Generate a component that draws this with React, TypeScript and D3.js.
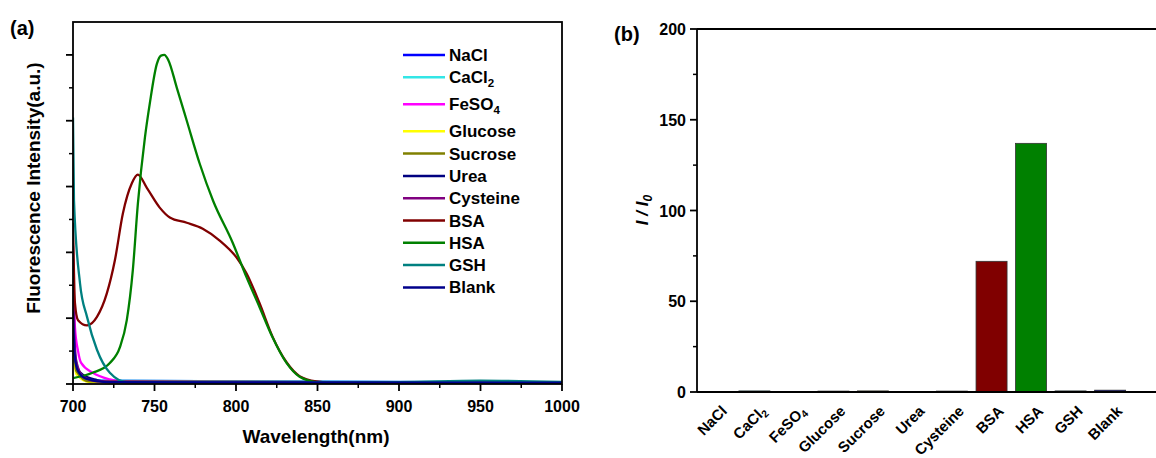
import React from 'react';
import * as d3 from 'd3';

// ---- panel (a) spectra: [wavelength nm, intensity a.u.]
const naclPts: [number, number][] = [[700, 700], [702, 200], [708, 50], [1000, 20]];
const cacl2Pts: [number, number][] = [[700, 1200], [701.5, 400], [705, 150], [715, 50], [1000, 20]];
const feso4Pts: [number, number][] = [[700, 1900], [701.2, 860], [703.1, 500], [705, 320], [712.2, 170], [722.6, 70], [733, 30], [1000, 20]];
const glucosePts: [number, number][] = [[700, 600], [702, 150], [710, 30], [1000, 20]];
const sucrosePts: [number, number][] = [[700, 800], [702, 200], [710, 40], [1000, 20]];
const ureaPts: [number, number][] = [[700, 900], [701, 500], [702.4, 260], [706, 140], [714.7, 60], [722.6, 30], [1000, 20]];
const cysteinePts: [number, number][] = [[700, 2100], [700.8, 800], [702, 350], [706, 120], [715, 40], [1000, 20]];
const bsaPts: [number, number][] = [
  [700, 2450], [701.2, 1230], [703.1, 970], [708.6, 890], [714.7, 1020], [720.8, 1380], [725.7, 1880],
  [730.6, 2590], [736.1, 3050], [739.8, 3180], [745.3, 2980], [753.2, 2680], [759.4, 2530], [769.8, 2450],
  [779.6, 2360], [790, 2180], [800.4, 1920], [806.5, 1680], [814.4, 1230], [822.4, 720], [831, 330],
  [839, 120], [849.3, 40], [865, 10], [1000, 10],
];
const hsaPts: [number, number][] = [
  [700, 90], [712, 170], [722.6, 320], [728.8, 560], [733, 970], [736.7, 1730], [739.8, 2740], [744.1, 3740],
  [747.1, 4260], [751.4, 4860], [754, 4990], [756, 5000], [758.5, 4920], [763.7, 4500], [769.8, 4000], [777.7, 3350],
  [786, 2780], [797.9, 2150], [806.5, 1620], [814.4, 1170], [822.4, 710], [831, 320], [839, 110],
  [849.3, 30], [865, 10], [1000, 10],
];
const gshPts: [number, number][] = [[700, 4050], [700.6, 2790], [704.3, 1530], [708.6, 1020], [714.7, 520], [722.6, 170], [733, 30], [800, 20], [900, 30], [950, 50], [1000, 30]];
const blankPts: [number, number][] = [[700, 1100], [701, 450], [703, 200], [708, 80], [720, 30], [1000, 20]];

const seriesNames = ['NaCl', 'CaCl2', 'FeSO4', 'Glucose', 'Sucrose', 'Urea', 'Cysteine', 'BSA', 'HSA', 'GSH', 'Blank'];
const seriesColors = ['#0000ff', '#33e6e6', '#ff00ff', '#ffff00', '#808000', '#000080', '#800080', '#800000', '#008000', '#008080', '#00008b'];
const seriesPts = [naclPts, cacl2Pts, feso4Pts, glucosePts, sucrosePts, ureaPts, cysteinePts, bsaPts, hsaPts, gshPts, blankPts];

// ---- panel (b) I/I0 ratio
const barValues = [0.3, 0.6, 0.3, 0.5, 0.6, 0.3, 0.5, 72, 137, 0.6, 1.0];
const barColors = ['#0000ff', '#33e6e6', '#ff00ff', '#ffff00', '#808000', '#000080', '#800080', '#800000', '#008000', '#008080', '#00008b'];

const xTicksA = [700, 750, 800, 850, 900, 950, 1000];
const yTicksB = [0, 50, 100, 150, 200];

const FONT = 'Liberation Sans, Arial, sans-serif';

// label with optional subscript digits (CaCl2, FeSO4)
const Label: React.FC<{ name: string; sub?: number }> = ({ name, sub = 4 }) => {
  const m = name.match(/^(.*?)(\d)$/);
  if (!m) return <>{name}</>;
  return (
    <>
      {m[1]}
      <tspan dy={sub} fontSize="0.68em">{m[2]}</tspan>
    </>
  );
};

export default function App() {
  const W = 1156, H = 458;

  // panel a
  const a = { left: 73, right: 562, top: 22, bottom: 384 };
  const xA = d3.scaleLinear().domain([700, 1000]).range([a.left, a.right]);
  const yA = d3.scaleLinear().domain([0, 5500]).range([a.bottom, a.top]);
  const line = d3.line<[number, number]>()
    .x(d => xA(d[0]))
    .y(d => yA(d[1]))
    .curve(d3.curveMonotoneX);

  const minorX = d3.range(725, 1000, 50);
  const majorY = d3.range(0, 5001, 1000);
  const minorY = d3.range(500, 5001, 1000);

  // panel b
  const b = { left: 697, right: 1200, top: 29, bottom: 392 };
  const xB = d3.scaleBand<string>()
    .domain(seriesNames)
    .range([b.left, 1128])
    .paddingInner(0.215)
    .paddingOuter(0.06);
  const yB = d3.scaleLinear().domain([0, 200]).range([b.bottom, b.top]);
  const minorYB = d3.range(25, 200, 50);

  // legend rows; subscripts push the next row down a little
  let ly = 55;
  const legendRows = seriesNames.map((n, i) => {
    const y = ly;
    ly += /\d$/.test(n) ? 27 : 22.3;
    return { n, y, c: seriesColors[i] };
  });

  return (
    <svg width={W} height={H} style={{ position: 'absolute', left: 0, top: 0, background: '#fff' }} fontFamily={FONT} fontWeight="bold">
      <defs>
        <clipPath id="clipA">
          <rect x={a.left} y={a.top} width={a.right - a.left} height={a.bottom - a.top} />
        </clipPath>
      </defs>

      {/* ---------- (a) ---------- */}
      <text x={10} y={35} fontSize={20}>(a)</text>

      <g clipPath="url(#clipA)">
        {seriesPts.map((pts, i) => (
          <path key={seriesNames[i]} d={line(pts) || ''} fill="none" stroke={seriesColors[i]} strokeWidth={2.3} />
        ))}
      </g>

      <rect x={a.left} y={a.top} width={a.right - a.left} height={a.bottom - a.top} fill="none" stroke="#000" strokeWidth={1.8} />

      {xTicksA.map(t => (
        <g key={t}>
          <line x1={xA(t)} x2={xA(t)} y1={a.bottom} y2={a.bottom + 7} stroke="#000" strokeWidth={1.8} />
          <text x={xA(t)} y={412} textAnchor="middle" fontSize={16}>{t}</text>
        </g>
      ))}
      {minorX.map(t => (
        <line key={t} x1={xA(t)} x2={xA(t)} y1={a.bottom} y2={a.bottom + 4} stroke="#000" strokeWidth={1.5} />
      ))}
      {majorY.map(t => (
        <line key={t} x1={a.left - 7} x2={a.left} y1={yA(t)} y2={yA(t)} stroke="#000" strokeWidth={1.8} />
      ))}
      {minorY.map(t => (
        <line key={t} x1={a.left - 4} x2={a.left} y1={yA(t)} y2={yA(t)} stroke="#000" strokeWidth={1.5} />
      ))}

      <text x={316} y={443} textAnchor="middle" fontSize={19}>Wavelength(nm)</text>
      <text transform={`translate(40,188) rotate(-90)`} textAnchor="middle" fontSize={19}>
        Fluorescence Intensity(a.u.)
      </text>

      {legendRows.map(r => (
        <g key={r.n}>
          <line x1={403} x2={445} y1={r.y} y2={r.y} stroke={r.c} strokeWidth={2.5} />
          <text x={449} y={r.y + 6} fontSize={17}><Label name={r.n} /></text>
        </g>
      ))}

      {/* ---------- (b) ---------- */}
      <text x={614} y={41} fontSize={20}>(b)</text>

      {barValues.map((v, i) => (
        <rect
          key={seriesNames[i]}
          x={xB(seriesNames[i])}
          y={yB(v)}
          width={xB.bandwidth()}
          height={Math.max(b.bottom - yB(v), 0.8)}
          fill={barColors[i]}
          stroke="#333"
          strokeWidth={0.8}
        />
      ))}

      <line x1={b.left} x2={b.left} y1={b.top} y2={b.bottom} stroke="#000" strokeWidth={1.8} />
      <line x1={b.left} x2={b.right} y1={b.top} y2={b.top} stroke="#000" strokeWidth={1.8} />
      <line x1={b.left} x2={b.right} y1={b.bottom} y2={b.bottom} stroke="#000" strokeWidth={1.8} />

      {yTicksB.map(t => (
        <g key={t}>
          <line x1={b.left - 7} x2={b.left} y1={yB(t)} y2={yB(t)} stroke="#000" strokeWidth={1.8} />
          <text x={686} y={yB(t) + 6} textAnchor="end" fontSize={16}>{t}</text>
        </g>
      ))}
      {minorYB.map(t => (
        <line key={t} x1={b.left - 4} x2={b.left} y1={yB(t)} y2={yB(t)} stroke="#000" strokeWidth={1.5} />
      ))}

      {seriesNames.map(n => {
        const cx = (xB(n) || 0) + xB.bandwidth() / 2 + 13;
        return (
          <text key={n} transform={`translate(${cx},412) rotate(-45)`} textAnchor="end" fontSize={15}>
            <Label name={n} sub={3} />
          </text>
        );
      })}

      <text transform={`translate(648,210) rotate(-90)`} textAnchor="middle" fontSize={17} fontStyle="italic">
        I / I<tspan dy={4} fontSize="0.7em">0</tspan>
      </text>
    </svg>
  );
}
